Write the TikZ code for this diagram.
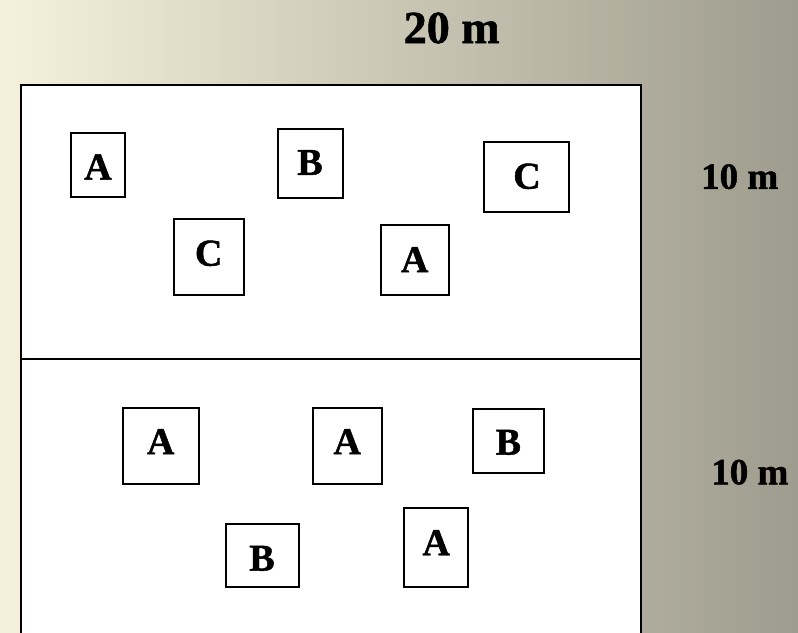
\documentclass[tikz,border=0pt]{standalone}
\usepackage{fontspec}
\setmainfont{Liberation Serif}
\newfontfamily\heavyserif{Liberation Serif Bold}[FakeBold=1.2]
\definecolor{bgL}{RGB}{246,241,219}
\definecolor{bgM}{RGB}{216,209,187}
\definecolor{bgR}{RGB}{158,156,142}
\tikzset{
  field/.style={draw=black, line width=2.4pt, fill=white},
  boxnode/.style={draw=black, line width=2.2pt, fill=white, inner sep=0pt},
  lab/.style={inner sep=0pt, font=\heavyserif\fontsize{38}{40}\selectfont},
  dim/.style={inner sep=0pt, font=\heavyserif\fontsize{37}{40}\selectfont},
  dimbig/.style={inner sep=0pt, font=\heavyserif\fontsize{46}{50}\selectfont}
}
\begin{document}
\begin{tikzpicture}[x=1pt,y=-1pt]
\useasboundingbox (0,0) rectangle (798,632);
\clip (0,0) rectangle (798,632);
\shade[left color=bgL, middle color=bgM, right color=bgR] (0,0) rectangle (798,632);
% field
\node[field, minimum width=620pt, minimum height=580pt, anchor=north west] (field) at (20,84) {};
\coordinate (divL) at (20,359);
\coordinate (divR) at (640,359);
\draw[line width=2.2pt] (divL) -- (divR);
% dimension labels
\node[dimbig] (w20) at (451.7,28) {20 m};
\node[dim] (h10a) at (739.7,176.7) {10 m};
\node[dim] (h10b) at (749.8,472.2) {10 m};
% upper half boxes
\node[boxnode, minimum width=54pt, minimum height=64pt] (bA1) at (98,165) {};
\node[lab] (tA1) at (98,167) {A};
\node[boxnode, minimum width=65pt, minimum height=69pt] (bB1) at (310.5,163.5) {};
\node[lab] (tB1) at (310,162.5) {B};
\node[boxnode, minimum width=70pt, minimum height=76pt] (bC1) at (209,257) {};
\node[lab] (tC1) at (208.7,253.3) {C};
\node[boxnode, minimum width=85pt, minimum height=70pt] (bC2) at (526.5,177) {};
\node[lab] (tC2) at (527,176.3) {C};
\node[boxnode, minimum width=68pt, minimum height=70pt] (bA2) at (415,260) {};
\node[lab] (tA2) at (414.7,259.7) {A};
% lower half boxes
\node[boxnode, minimum width=76pt, minimum height=76pt] (bA3) at (161,446) {};
\node[lab] (tA3) at (160.7,441.7) {A};
\node[boxnode, minimum width=69pt, minimum height=76pt] (bA4) at (347.5,446) {};
\node[lab] (tA4) at (347.2,441.7) {A};
\node[boxnode, minimum width=71pt, minimum height=64pt] (bB2) at (508.5,441) {};
\node[lab] (tB2) at (508.3,442.3) {B};
\node[boxnode, minimum width=73pt, minimum height=63pt] (bB3) at (262.5,555.5) {};
\node[lab] (tB3) at (262,558.3) {B};
\node[boxnode, minimum width=64pt, minimum height=79pt] (bA5) at (436,547.5) {};
\node[lab] (tA5) at (436.2,542.7) {A};
\end{tikzpicture}
\end{document}
